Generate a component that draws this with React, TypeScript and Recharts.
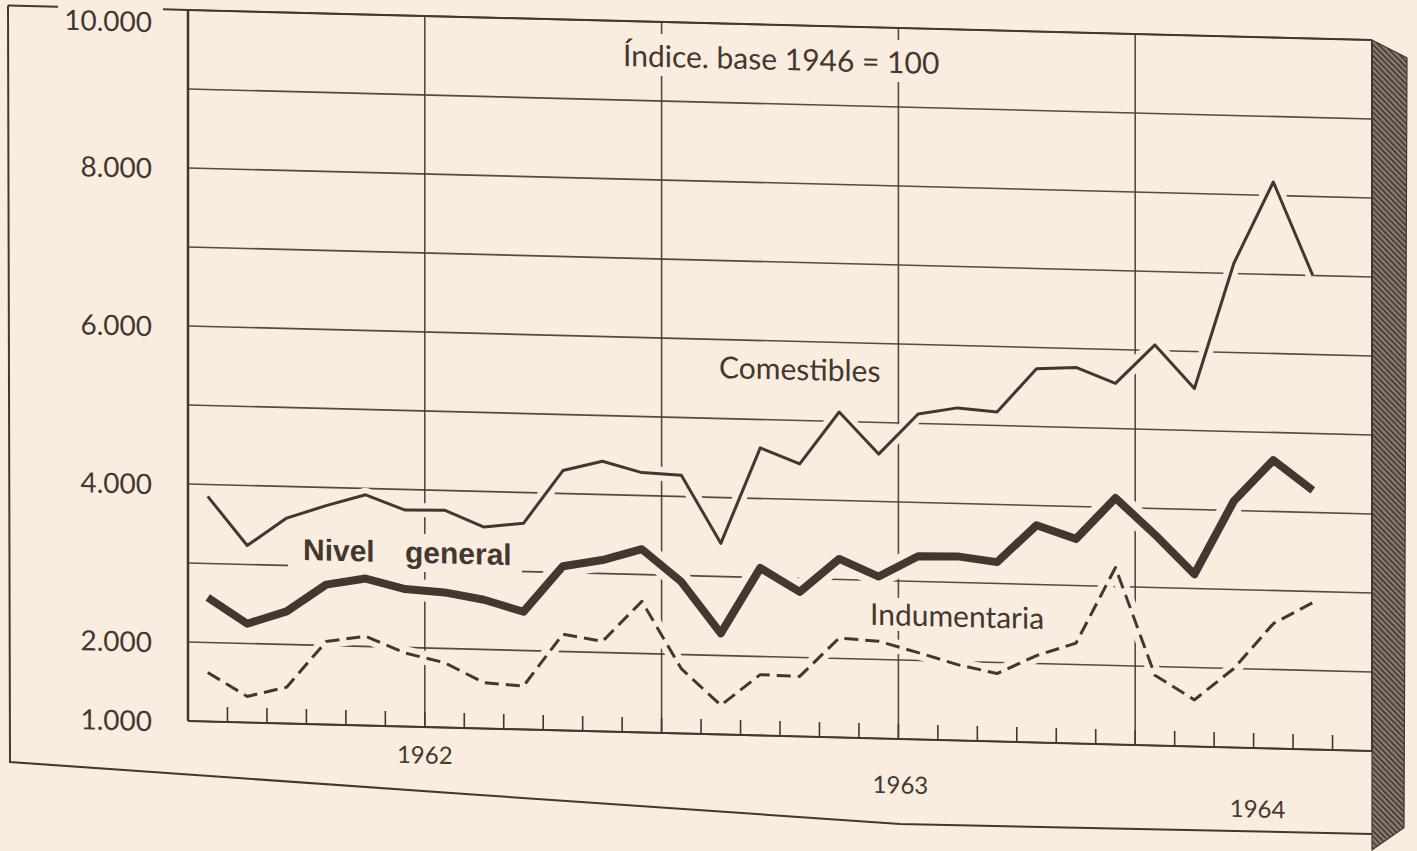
import React from 'react';
import { LineChart, Line, XAxis, YAxis, CartesianGrid, ReferenceLine, Customized } from 'recharts';

// ---- data (índice, base 1946 = 100), monthly, Jan 1962 – May 1964 ----
const months = [
  'Ene 1962', 'Feb 1962', 'Mar 1962', 'Abr 1962', 'May 1962', 'Jun 1962',
  'Jul 1962', 'Ago 1962', 'Sep 1962', 'Oct 1962', 'Nov 1962', 'Dic 1962',
  'Ene 1963', 'Feb 1963', 'Mar 1963', 'Abr 1963', 'May 1963', 'Jun 1963',
  'Jul 1963', 'Ago 1963', 'Sep 1963', 'Oct 1963', 'Nov 1963', 'Dic 1963',
  'Ene 1964', 'Feb 1964', 'Mar 1964', 'Abr 1964', 'May 1964',
];

const comestibles = [
  3850, 3240, 3600, 3770, 3920, 3740, 3750, 3550, 3610, 4290, 4420, 4290,
  4270, 3420, 4640, 4450, 5120, 4600, 5120, 5210, 5170, 5730, 5760, 5570,
  6070, 5530, 7130, 8170, 7000,
];

const nivelGeneral = [
  2570, 2250, 2420, 2770, 2860, 2740, 2710, 2630, 2490, 3080, 3170, 3320,
  2920, 2280, 3120, 2830, 3260, 3050, 3320, 3330, 3270, 3750, 3590, 4120,
  3670, 3180, 4120, 4650, 4280,
];

const indumentaria = [
  1620, 1330, 1460, 2050, 2130, 1930, 1820, 1580, 1550, 2220, 2140, 2660,
  1820, 1370, 1770, 1760, 2260, 2230, 2100, 1960, 1860, 2100, 2270, 3240,
  1890, 1590, 2000, 2580, 2860,
];

const yTicks = [1000, 2000, 3000, 4000, 5000, 6000, 7000, 8000, 9000, 10000];
const yTickLabels: Record<number, string> = {
  1000: '1.000', 2000: '2.000', 4000: '4.000', 6000: '6.000', 8000: '8.000', 10000: '10.000',
};
const halfYearTicks = [6, 12, 18, 24];
const monthTicks = [1, 2, 3, 4, 5, 6, 7, 8, 9, 10, 11, 12, 13, 14, 15, 16, 17, 18, 19, 20, 21, 22, 23, 24, 25, 26, 27, 28, 29];
const yearTicks = [6, 18, 27];
const yearLabels = ['1962', '1963', '1964'];

const rows = months.map((mes, i) => ({
  mes,
  t: i + 0.5,
  com: comestibles[i],
  niv: nivelGeneral[i],
  ind: indumentaria[i],
}));

// ---- styles ----
const BG = '#f8eddf';
const INK = '#45372f';
const FONT = 'Lato, "DejaVu Sans", sans-serif';
const TICK_TOP = 1190; // month tick marks rise from the 1.000 line

const yearOffsets = [
  { dx: 0, dy: 27 },
  { dx: 2, dy: 45 },
  { dx: 4, dy: 60 },
];

function YTick(props: any) {
  const { x, y, payload } = props;
  const label = yTickLabels[payload.value];
  if (!label) return null;
  const dy = payload.value === 10000 ? 12 : 0;
  return (
    <text x={x} y={y + dy} textAnchor="end" dominantBaseline="central" fontSize={28} fill={INK} fontFamily={FONT}>
      {label}
    </text>
  );
}

function YearTick(props: any) {
  const { x, y, payload } = props;
  const i = yearTicks.indexOf(payload.value);
  if (i < 0) return null;
  const o = yearOffsets[i];
  return (
    <text x={x + o.dx} y={y + o.dy} textAnchor="middle" dominantBaseline="central" fontSize={24} fill={INK} fontFamily={FONT}>
      {yearLabels[i]}
    </text>
  );
}

function Annotations() {
  return (
    <g>
      <defs>
        <pattern id="hatch" width="4" height="4" patternUnits="userSpaceOnUse" patternTransform="rotate(-45)">
          <rect width="4" height="4" fill="#85786f" />
          <line x1="0" y1="0" x2="0" y2="4" stroke="#2c231f" strokeWidth="2.3" />
        </pattern>
      </defs>
      {/* shaded side of the board */}
      <polygon points="1372,10 1407,27 1404,797 1372,820" fill="url(#hatch)" stroke={INK} strokeWidth={1.2} />
      {/* outer frame */}
      <line x1={8} y1={10} x2={58} y2={10} stroke={INK} strokeWidth={2} />
      <line x1={163} y1={10} x2={188} y2={10} stroke={INK} strokeWidth={2} />
      <polyline points="8,10 10,766.5 480,787.6 900,806 1372,804" fill="none" stroke={INK} strokeWidth={2} />
      {/* title */}
      <rect x={612} y={22} width={336} height={42} fill={BG} />
      <text x={623} y={55} fontSize={30} fill={INK} fontFamily={FONT}>Índice. base 1946 = 100</text>
      {/* series labels */}
      <text x={719} y={364.5} fontSize={30} fill={INK} fontFamily={FONT}>Comestibles</text>
      <rect x={288} y={528} width={234} height={38} fill={BG} />
      <text x={303} y={557} fontSize={30} fontWeight="bold" fill={INK} fontFamily='"Liberation Sans", Arial, sans-serif'>Nivel</text>
      <text x={405} y={557} fontSize={30} fontWeight="bold" fill={INK} fontFamily='"Liberation Sans", Arial, sans-serif'>general</text>
      <rect x={862} y={580} width={193} height={33} fill={BG} />
      <text x={870} y={607.5} fontSize={30} fill={INK} fontFamily={FONT}>Indumentaria</text>
    </g>
  );
}

export default function App() {
  return (
    <div style={{ position: 'absolute', left: 0, top: 0, width: 1417, height: 851, background: BG, overflow: 'hidden' }}>
      <div style={{ position: 'absolute', left: 0, top: 0, width: 1417, height: 851, transform: 'skewY(1.45deg)', transformOrigin: '188px 0px' }}>
        <LineChart width={1417} height={851} data={rows} margin={{ top: 10, right: 45, bottom: 70, left: 0 }}>
          <CartesianGrid stroke={INK} strokeWidth={1.6} strokeOpacity={0.9} />
          <YAxis
            type="number"
            domain={[1000, 10000]}
            ticks={yTicks}
            interval={0}
            width={188}
            axisLine={{ stroke: INK, strokeWidth: 2.5 }}
            tickLine={false}
            tickSize={6}
            tickMargin={30}
            tick={<YTick />}
          />
          <XAxis
            xAxisId={0}
            type="number"
            dataKey="t"
            domain={[0, 30]}
            allowDataOverflow
            ticks={halfYearTicks}
            interval={0}
            height={0}
            axisLine={false}
            tickSize={10}
            tickLine={{ stroke: INK, strokeWidth: 1.8 }}
            tickFormatter={() => ''}
          />
          <XAxis
            xAxisId="y"
            type="number"
            dataKey="t"
            domain={[0, 30]}
            allowDataOverflow
            ticks={yearTicks}
            interval={0}
            height={60}
            axisLine={false}
            tickLine={false}
            tickSize={0}
            tickMargin={0}
            tick={<YearTick />}
          />
          <ReferenceLine y={10000} stroke={INK} strokeWidth={2} />
          <ReferenceLine y={1000} stroke={INK} strokeWidth={2} />
          <ReferenceLine x={30} stroke={INK} strokeWidth={2} />
          {monthTicks.map((m) => (
            <ReferenceLine
              key={'mt' + m}
              segment={[{ x: m, y: 1000 }, { x: m, y: TICK_TOP }]}
              stroke={INK}
              strokeWidth={1.6}
            />
          ))}

          {/* paper halos that break the grid around the curves */}
          <Line dataKey="com" stroke={BG} strokeWidth={14} dot={false} activeDot={false} isAnimationActive={false} strokeLinejoin="round" />
          <Line dataKey="niv" stroke={BG} strokeWidth={22} dot={false} activeDot={false} isAnimationActive={false} strokeLinejoin="round" />
          <Line dataKey="ind" stroke={BG} strokeWidth={14} dot={false} activeDot={false} isAnimationActive={false} strokeLinejoin="round" />

          <Line dataKey="com" name="Comestibles" stroke={INK} strokeWidth={3} dot={false} activeDot={false} isAnimationActive={false} strokeLinejoin="round" />
          <Line dataKey="niv" name="Nivel general" stroke={INK} strokeWidth={8} dot={false} activeDot={false} isAnimationActive={false} strokeLinejoin="round" />
          <Line dataKey="ind" name="Indumentaria" stroke={INK} strokeWidth={3} strokeDasharray="14 7" dot={false} activeDot={false} isAnimationActive={false} strokeLinejoin="round" />

          <Customized component={<Annotations />} />
        </LineChart>
      </div>
    </div>
  );
}
